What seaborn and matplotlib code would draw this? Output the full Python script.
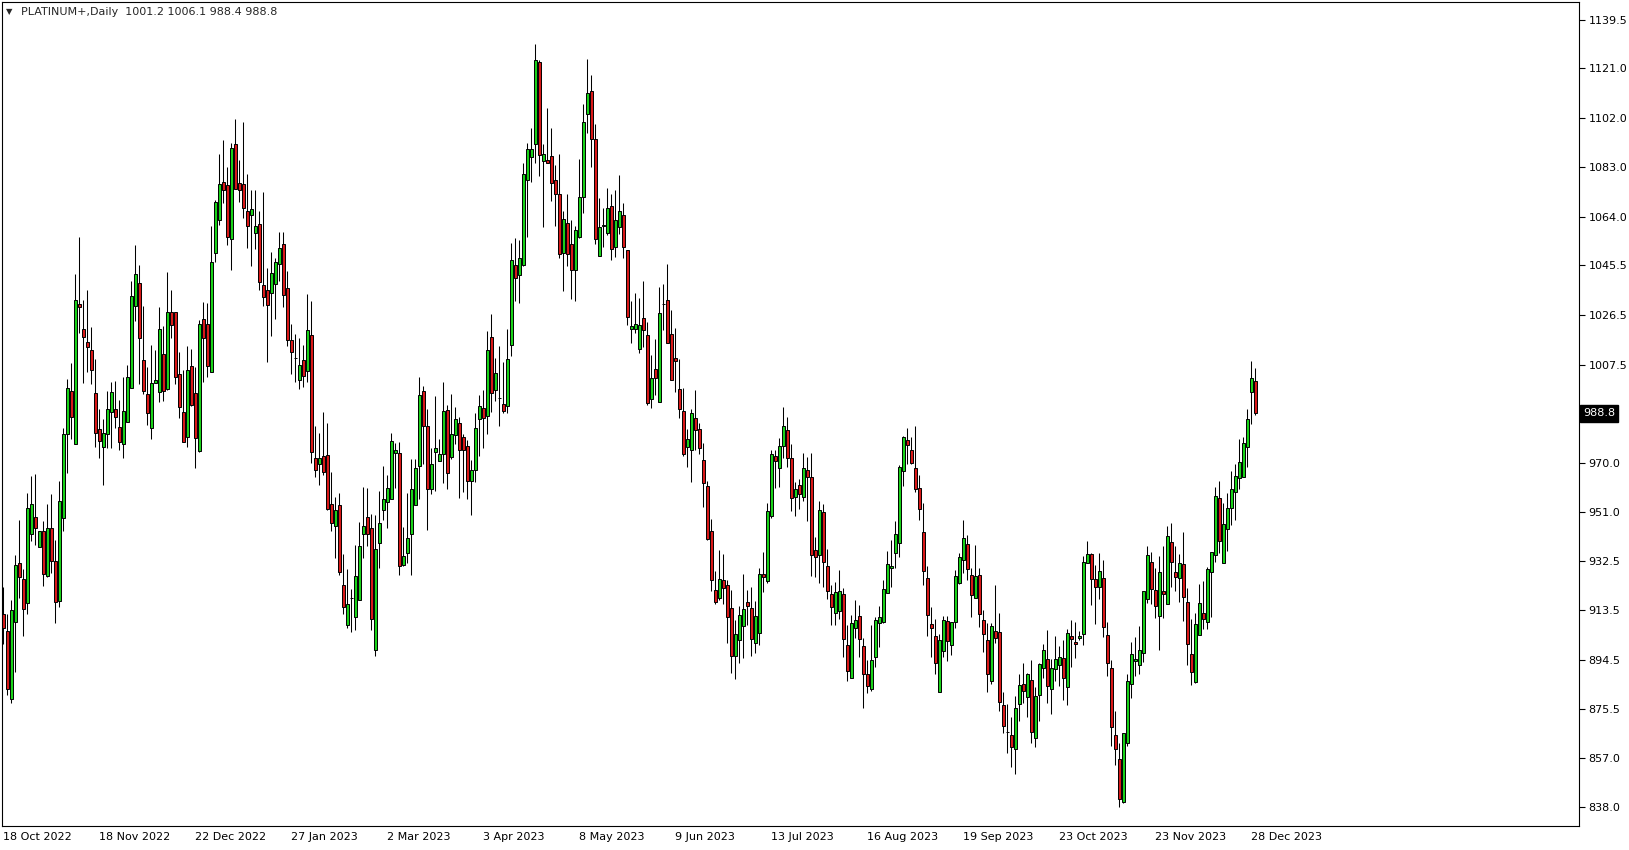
import numpy as np
import pandas as pd
import seaborn as sns
import matplotlib.pyplot as plt

# daily bars PLATINUM+ (open/high/low/close)
opens = [912.2, 905.5, 879.4, 908.8, 931.4, 925.4, 916.3, 942.5, 949.0, 937.5,
         943.7, 926.6, 944.8, 932.3, 917.1, 948.6, 981.1, 997.3, 977.3, 1030.7,
         1021.3, 1016.2, 1013.0, 996.5, 982.7, 975.8, 981.1, 989.5, 990.7, 983.5,
         977.3, 985.6, 998.4, 1030.0, 1038.6, 1009.2, 996.2, 983.1, 1000.6, 997.1,
         1011.5, 998.1, 1027.5, 1027.5, 1003.9, 989.2, 979.6, 1006.9, 996.5, 974.5,
         1024.8, 1023.0, 1004.8, 1050.4, 1063.0, 1077.4, 1076.2, 1055.4, 1092.1, 1077.2,
         1076.8, 1066.2, 1064.9, 1057.9, 1061.2, 1037.9, 1036.0, 1035.0, 1038.5, 1046.2,
         1053.5, 1037.0, 1016.8, 1010.2, 1001.5, 1009.4, 1005.1, 1019.0, 971.6, 969.6,
         972.4, 972.8, 954.3, 945.8, 953.9, 923.1, 908.0, 918.3, 910.9, 917.3,
         942.8, 949.2, 944.8, 898.4, 939.3, 952.0, 955.0, 956.2, 973.8, 973.8,
         930.7, 935.2, 942.8, 953.9, 968.6, 997.3, 983.9, 959.7, 974.1, 970.6,
         973.4, 990.0, 972.2, 980.7, 985.3, 979.6, 976.4, 963.0, 967.3, 986.5,
         991.0, 987.7, 1018.1, 997.9, 994.9, 992.6, 991.6, 1014.9, 1045.5, 1041.7,
         1045.8, 1078.3, 1087.0, 1092.1, 1123.4, 1085.5, 1086.0, 1087.3, 1078.3, 1073.0,
         1050.4, 1061.9, 1053.5, 1043.9, 1056.4, 1071.7, 1103.6, 1112.3, 1094.0, 1049.1,
         1060.6, 1057.9, 1068.3, 1052.6, 1060.0, 1064.9, 1051.5, 1021.3, 1021.3, 1013.3,
         1025.5, 1018.8, 994.5, 1005.7, 993.0, 1030.6, 1032.4, 1019.4, 1010.2, 998.0,
         989.7, 975.8, 975.0, 987.2, 982.8, 970.9, 960.9, 943.7, 921.1, 918.3,
         925.2, 923.0, 914.5, 896.0, 902.0, 907.5, 916.7, 914.5, 901.0, 904.6,
         927.5, 924.7, 949.6, 972.4, 968.0, 976.3, 982.4, 971.6, 956.9, 961.3,
         956.9, 967.3, 964.3, 936.5, 934.8, 951.1, 930.5, 919.5, 912.6, 913.1,
         919.5, 900.1, 887.4, 906.5, 911.2, 899.7, 888.9, 883.5, 895.6, 908.4,
         909.0, 919.9, 929.5, 935.5, 939.4, 966.7, 978.6, 974.8, 968.1, 960.1,
         943.3, 926.0, 908.2, 903.6, 882.3, 897.9, 909.3, 900.1, 908.8, 924.0,
         932.6, 939.0, 926.9, 918.0, 926.9, 909.7, 902.0, 886.4, 905.5, 905.0,
         877.1, 866.9, 865.9, 860.5, 877.4, 885.4, 880.1, 886.7, 864.4, 881.2,
         891.2, 894.7, 883.5, 890.9, 892.7, 895.0, 884.2, 903.6, 901.2, 903.0,
         904.2, 931.7, 935.0, 925.3, 922.5, 925.7, 904.0, 891.2, 865.7, 856.4,
         840.2, 862.5, 885.1, 894.1, 892.7, 897.0, 917.6, 931.8, 921.2, 911.4,
         920.9, 915.7, 939.5, 928.0, 925.7, 931.0, 916.5, 896.6, 886.1, 904.0,
         912.6, 909.1, 928.2, 934.6, 956.3, 931.4, 944.4, 952.7, 958.6, 964.0,
         964.3, 976.1, 996.9, 1001.2]
highs = [922.4, 912.2, 917.3, 934.6, 948.0, 929.2, 958.4, 964.8, 965.8, 943.7,
         947.6, 954.1, 957.9, 940.3, 962.9, 983.3, 1001.9, 1008.2, 1042.1, 1056.4,
         1032.2, 1036.0, 1022.0, 1009.6, 990.5, 986.6, 997.5, 1000.9, 1001.2, 993.9,
         1002.9, 1007.3, 1039.6, 1053.3, 1045.6, 1029.9, 1006.7, 1015.0, 1013.1, 1029.7,
         1022.3, 1043.1, 1036.0, 1027.5, 1012.4, 1005.4, 1014.7, 1013.5, 1006.7, 1024.6,
         1031.6, 1030.9, 1060.6, 1070.5, 1088.3, 1093.4, 1083.2, 1092.5, 1101.4, 1085.7,
         1100.2, 1080.4, 1074.3, 1074.3, 1066.2, 1073.4, 1044.6, 1050.6, 1048.5, 1058.3,
         1058.3, 1043.4, 1022.9, 1019.4, 1017.5, 1014.9, 1034.7, 1031.8, 983.9, 981.4,
         989.4, 985.2, 966.4, 956.9, 958.2, 934.9, 929.2, 921.5, 938.4, 947.3,
         960.7, 960.3, 950.2, 949.9, 959.2, 968.6, 965.2, 981.4, 977.5, 977.9,
         945.4, 958.2, 971.2, 971.2, 1002.8, 999.4, 990.4, 975.7, 995.5, 978.9,
         1000.9, 991.9, 996.4, 991.3, 987.5, 981.1, 978.5, 970.9, 989.0, 996.0,
         997.7, 1020.3, 1026.8, 1010.1, 1014.5, 1008.5, 1021.3, 1054.2, 1055.8, 1055.1,
         1084.8, 1092.4, 1098.2, 1130.4, 1124.3, 1092.1, 1105.9, 1097.9, 1083.8, 1088.0,
         1066.2, 1072.7, 1062.8, 1060.5, 1086.4, 1107.2, 1124.4, 1118.3, 1099.8, 1071.1,
         1067.6, 1075.3, 1072.7, 1074.3, 1080.0, 1069.2, 1051.5, 1031.8, 1035.0, 1033.1,
         1039.4, 1023.9, 1011.1, 1017.2, 1037.3, 1038.3, 1045.9, 1028.3, 1021.6, 1009.6,
         998.6, 983.0, 990.7, 997.7, 985.2, 977.5, 962.9, 948.3, 928.4, 936.4,
         934.9, 925.2, 921.1, 909.6, 915.0, 927.5, 921.4, 922.4, 916.9, 929.8,
         935.6, 954.7, 975.0, 975.0, 979.5, 991.1, 987.5, 977.3, 962.4, 963.9,
         973.5, 972.2, 973.8, 941.6, 955.3, 954.1, 937.1, 923.3, 924.3, 928.8,
         922.0, 907.8, 911.6, 917.3, 915.4, 903.0, 894.4, 907.8, 911.0, 915.0,
         925.0, 936.1, 940.3, 947.6, 969.0, 980.3, 983.4, 979.9, 984.1, 965.2,
         954.4, 930.4, 914.8, 910.3, 904.2, 911.2, 911.3, 909.0, 928.8, 935.5,
         948.0, 942.2, 929.5, 938.6, 929.7, 913.5, 908.4, 908.7, 923.1, 912.5,
         882.0, 877.5, 872.7, 880.7, 889.0, 893.3, 889.5, 894.4, 884.1, 893.3,
         900.5, 905.8, 894.7, 903.5, 899.8, 902.1, 906.3, 909.7, 909.1, 905.5,
         934.3, 940.0, 935.5, 930.8, 935.5, 932.7, 908.8, 894.4, 874.9, 862.5,
         866.3, 889.0, 901.2, 903.1, 907.4, 920.8, 938.0, 935.6, 929.5, 934.2,
         938.0, 945.7, 947.0, 938.0, 935.0, 943.3, 922.1, 910.1, 912.5, 923.5,
         924.6, 930.1, 935.6, 960.5, 962.9, 954.6, 958.2, 966.8, 969.4, 978.9,
         979.6, 990.4, 1008.9, 1006.1]
lows = [900.7, 881.0, 877.8, 889.9, 918.2, 903.7, 912.2, 940.0, 938.6, 937.5,
        922.8, 926.3, 927.9, 908.4, 914.8, 943.9, 966.1, 979.2, 977.3, 1019.7,
        1000.5, 1004.7, 999.9, 976.0, 971.9, 961.6, 975.4, 975.4, 983.1, 975.0,
        971.9, 985.4, 998.4, 1024.2, 999.9, 996.1, 984.4, 978.9, 1000.6, 993.3,
        993.7, 997.8, 1017.5, 999.9, 987.2, 977.7, 975.8, 991.8, 968.1, 974.1,
        1000.9, 1002.9, 1004.8, 1046.8, 1060.9, 1069.4, 1053.2, 1043.9, 1074.9, 1069.8,
        1063.8, 1052.2, 1045.2, 1051.9, 1036.2, 1030.0, 1008.5, 1018.5, 1025.1, 1039.5,
        1029.6, 1014.5, 1004.0, 1001.0, 998.0, 999.0, 1001.0, 970.0, 964.5, 961.3,
        965.2, 952.0, 943.9, 933.6, 927.1, 912.2, 906.5, 905.2, 905.8, 917.3,
        933.5, 938.0, 905.8, 895.9, 929.7, 947.9, 945.0, 956.2, 960.1, 926.9,
        930.5, 931.6, 927.1, 953.7, 956.2, 969.6, 944.3, 958.1, 959.1, 970.6,
        962.0, 960.0, 971.5, 977.3, 956.6, 958.8, 956.2, 950.1, 962.6, 972.5,
        975.7, 981.1, 989.4, 993.6, 984.0, 989.0, 988.8, 1010.8, 1031.9, 1031.2,
        1045.2, 1056.4, 1077.4, 1084.5, 1079.7, 1060.2, 1084.5, 1070.2, 1060.6, 1048.3,
        1035.7, 1045.3, 1032.8, 1031.9, 1056.1, 1065.6, 1096.2, 1083.2, 1053.6, 1049.0,
        1052.6, 1057.3, 1047.7, 1048.7, 1057.4, 1048.3, 1022.6, 1015.8, 1019.7, 1012.0,
        1014.3, 992.2, 990.9, 996.0, 993.0, 1020.9, 1015.9, 1001.5, 997.1, 987.1,
        972.6, 968.3, 962.6, 974.7, 973.2, 953.0, 940.5, 920.9, 916.0, 917.3,
        916.0, 901.0, 889.5, 887.3, 893.1, 895.0, 907.7, 896.0, 897.0, 900.0,
        920.3, 924.0, 948.8, 960.3, 960.7, 971.9, 968.4, 951.5, 949.6, 952.4,
        955.2, 947.6, 926.5, 926.2, 924.0, 922.2, 917.6, 907.7, 907.7, 910.3,
        895.4, 886.5, 887.4, 902.7, 895.4, 876.1, 881.6, 882.6, 891.8, 899.5,
        908.7, 919.9, 922.4, 929.7, 933.9, 961.1, 969.4, 969.3, 958.8, 948.0,
        923.1, 903.7, 895.4, 888.9, 882.3, 895.4, 894.0, 896.3, 906.5, 923.5,
        927.8, 925.0, 910.9, 918.0, 907.1, 897.5, 882.2, 885.2, 901.0, 875.0,
        866.3, 858.9, 853.5, 850.6, 871.0, 877.8, 872.7, 862.7, 861.2, 871.1,
        887.6, 878.0, 873.6, 886.4, 884.6, 879.1, 877.2, 891.8, 895.0, 902.1,
        900.1, 931.7, 915.5, 908.2, 917.8, 903.3, 888.4, 861.6, 854.2, 838.2,
        839.8, 861.6, 880.0, 888.4, 889.0, 893.8, 916.1, 915.7, 910.6, 898.2,
        910.4, 915.7, 922.2, 920.9, 916.7, 909.5, 892.5, 884.8, 885.8, 904.0,
        906.1, 906.3, 911.0, 932.0, 935.2, 931.4, 936.3, 946.1, 948.0, 959.7,
        964.3, 968.4, 984.6, 988.4]
closes = [906.5, 883.5, 913.5, 930.7, 926.3, 913.8, 952.8, 954.3, 944.8, 943.7,
          927.2, 944.8, 932.4, 916.7, 955.2, 981.1, 998.7, 987.5, 1032.2, 1029.6,
          1018.1, 1014.1, 1005.6, 981.5, 978.3, 981.5, 990.5, 996.9, 987.5, 978.0,
          989.7, 1002.6, 1033.7, 1042.0, 1017.5, 997.5, 988.8, 1000.3, 1001.8, 1021.0,
          997.4, 1027.5, 1022.6, 1002.9, 991.4, 978.0, 1005.4, 992.0, 979.3, 1023.0,
          1017.5, 1007.1, 1046.6, 1069.8, 1076.8, 1074.5, 1056.4, 1090.6, 1074.9, 1074.5,
          1067.6, 1060.6, 1067.2, 1060.5, 1039.2, 1033.4, 1030.5, 1042.4, 1046.6, 1052.3,
          1034.1, 1016.8, 1012.4, 1010.2, 1007.3, 1003.0, 1020.9, 974.0, 967.3, 971.6,
          966.4, 952.4, 946.7, 952.0, 928.2, 914.8, 916.0, 918.3, 926.5, 938.0,
          945.6, 942.8, 910.3, 937.1, 946.7, 956.0, 960.3, 978.2, 975.0, 930.5,
          934.2, 941.3, 959.8, 968.1, 995.8, 984.1, 959.7, 969.6, 975.7, 973.4,
          989.6, 966.0, 980.8, 986.8, 975.0, 975.0, 962.8, 967.1, 983.4, 991.6,
          987.2, 1013.0, 996.8, 1004.4, 994.9, 989.8, 1009.6, 1047.7, 1040.8, 1048.5,
          1080.3, 1090.2, 1090.2, 1124.3, 1087.9, 1088.3, 1084.5, 1077.2, 1073.0, 1050.0,
          1063.4, 1050.0, 1043.9, 1059.2, 1071.7, 1100.4, 1111.3, 1093.7, 1055.4, 1060.2,
          1061.1, 1067.6, 1051.9, 1063.0, 1066.3, 1052.6, 1025.8, 1022.1, 1023.2, 1022.6,
          1020.7, 992.8, 1002.5, 1002.2, 1027.4, 1030.6, 1015.9, 1001.5, 1008.9, 990.7,
          973.1, 979.2, 988.8, 982.4, 975.4, 962.0, 940.9, 925.0, 916.7, 925.6,
          922.1, 910.9, 896.0, 904.2, 911.8, 914.1, 915.1, 902.6, 911.3, 927.5,
          926.2, 951.4, 973.1, 970.7, 976.4, 983.9, 971.9, 956.5, 959.7, 957.8,
          968.1, 964.3, 934.5, 933.9, 951.8, 932.0, 920.9, 914.8, 920.5, 920.9,
          902.3, 890.3, 908.4, 909.7, 902.3, 888.9, 884.5, 894.6, 909.9, 910.7,
          921.6, 931.0, 930.4, 942.5, 968.4, 979.6, 976.9, 969.7, 959.7, 952.1,
          928.6, 911.6, 906.8, 893.1, 902.0, 909.9, 901.6, 909.0, 926.5, 933.7,
          941.3, 929.1, 919.2, 926.5, 912.2, 904.2, 888.9, 907.4, 902.7, 878.4,
          869.1, 866.9, 861.2, 875.9, 885.0, 882.5, 889.0, 866.9, 880.6, 892.8,
          898.2, 884.5, 891.2, 894.7, 895.4, 887.4, 904.6, 902.3, 900.4, 903.7,
          931.8, 935.0, 925.3, 922.2, 928.6, 907.2, 893.1, 868.9, 860.2, 841.4,
          866.3, 886.4, 896.6, 894.7, 898.2, 920.8, 934.6, 921.5, 915.1, 928.0,
          919.5, 941.9, 931.8, 926.3, 931.4, 918.6, 900.4, 889.7, 908.1, 916.1,
          910.1, 929.1, 935.6, 957.3, 940.1, 946.3, 952.7, 959.7, 964.8, 970.1,
          977.4, 986.5, 1002.2, 988.8]

date_labels = ['18 Oct 2022', '18 Nov 2022', '22 Dec 2022', '27 Jan 2023',
               '2 Mar 2023', '3 Apr 2023', '8 May 2023', '9 Jun 2023',
               '13 Jul 2023', '16 Aug 2023', '19 Sep 2023', '23 Oct 2023',
               '23 Nov 2023', '28 Dec 2023']
label_bars = [0, 24, 48, 72, 96, 120, 144, 168, 192, 216, 240, 264, 288, 312]
price_ticks = [1139.5, 1121.0, 1102.0, 1083.0, 1064.0, 1045.5, 1026.5, 1007.5,
               970.0, 951.0, 932.5, 913.5, 894.5, 875.5, 857.0, 838.0]
last_price = 988.8

df = pd.DataFrame({'open': opens, 'high': highs, 'low': lows, 'close': closes})
df['bar'] = np.arange(len(df))
df['up'] = df['close'] >= df['open']
df['bottom'] = df[['open', 'close']].min(axis=1)
df['height'] = (df['close'] - df['open']).abs()

sns.set_style('white')
plt.rcParams['font.family'] = ['DejaVu Sans']

fig = plt.figure(figsize=(16.29, 8.5), dpi=100)
ax = fig.add_axes([0.0015, 0.028, 0.9678, 0.9696])

# wicks
ax.vlines(df['bar'], df['low'], df['high'], color='black', linewidth=0.75, zorder=1)
# bodies
cols = np.where(df['up'], '#19d219', '#d81818')
ax.bar(df['bar'], df['height'], bottom=df['bottom'], width=0.72,
       color=cols, edgecolor='black', linewidth=0.7, zorder=2)

ax.set_xlim(-0.2, 393.9)
ax.set_ylim(830.8, 1146.3)

for s in ax.spines.values():
    s.set_color('black')
    s.set_linewidth(0.8)

ax.yaxis.tick_right()
ax.set_yticks(price_ticks)
ax.set_yticklabels(['%.1f' % p for p in price_ticks])
ax.set_xticks(label_bars)
ax.set_xticklabels(date_labels, ha='left')
ax.tick_params(axis='both', length=4, width=0.8, color='black', direction='out',
               labelsize=8, labelcolor='black', pad=3)
ax.tick_params(axis='x', length=3, pad=1.5)

# current price tag
ax.text(1.0025, last_price, '%.1f' % last_price, transform=ax.get_yaxis_transform(),
        ha='left', va='center', fontsize=8, color='white', clip_on=False,
        bbox=dict(boxstyle='square,pad=0.3', facecolor='black', edgecolor='black'))

# header
ax.text(0.0022, 0.988, '▼', transform=ax.transAxes, fontsize=6, va='center', ha='left')
ax.text(0.0115, 0.988, 'PLATINUM+,Daily  1001.2 1006.1 988.4 988.8',
        transform=ax.transAxes, fontsize=8, va='center', ha='left')

fig.savefig('out.png', dpi=100, facecolor='white')
